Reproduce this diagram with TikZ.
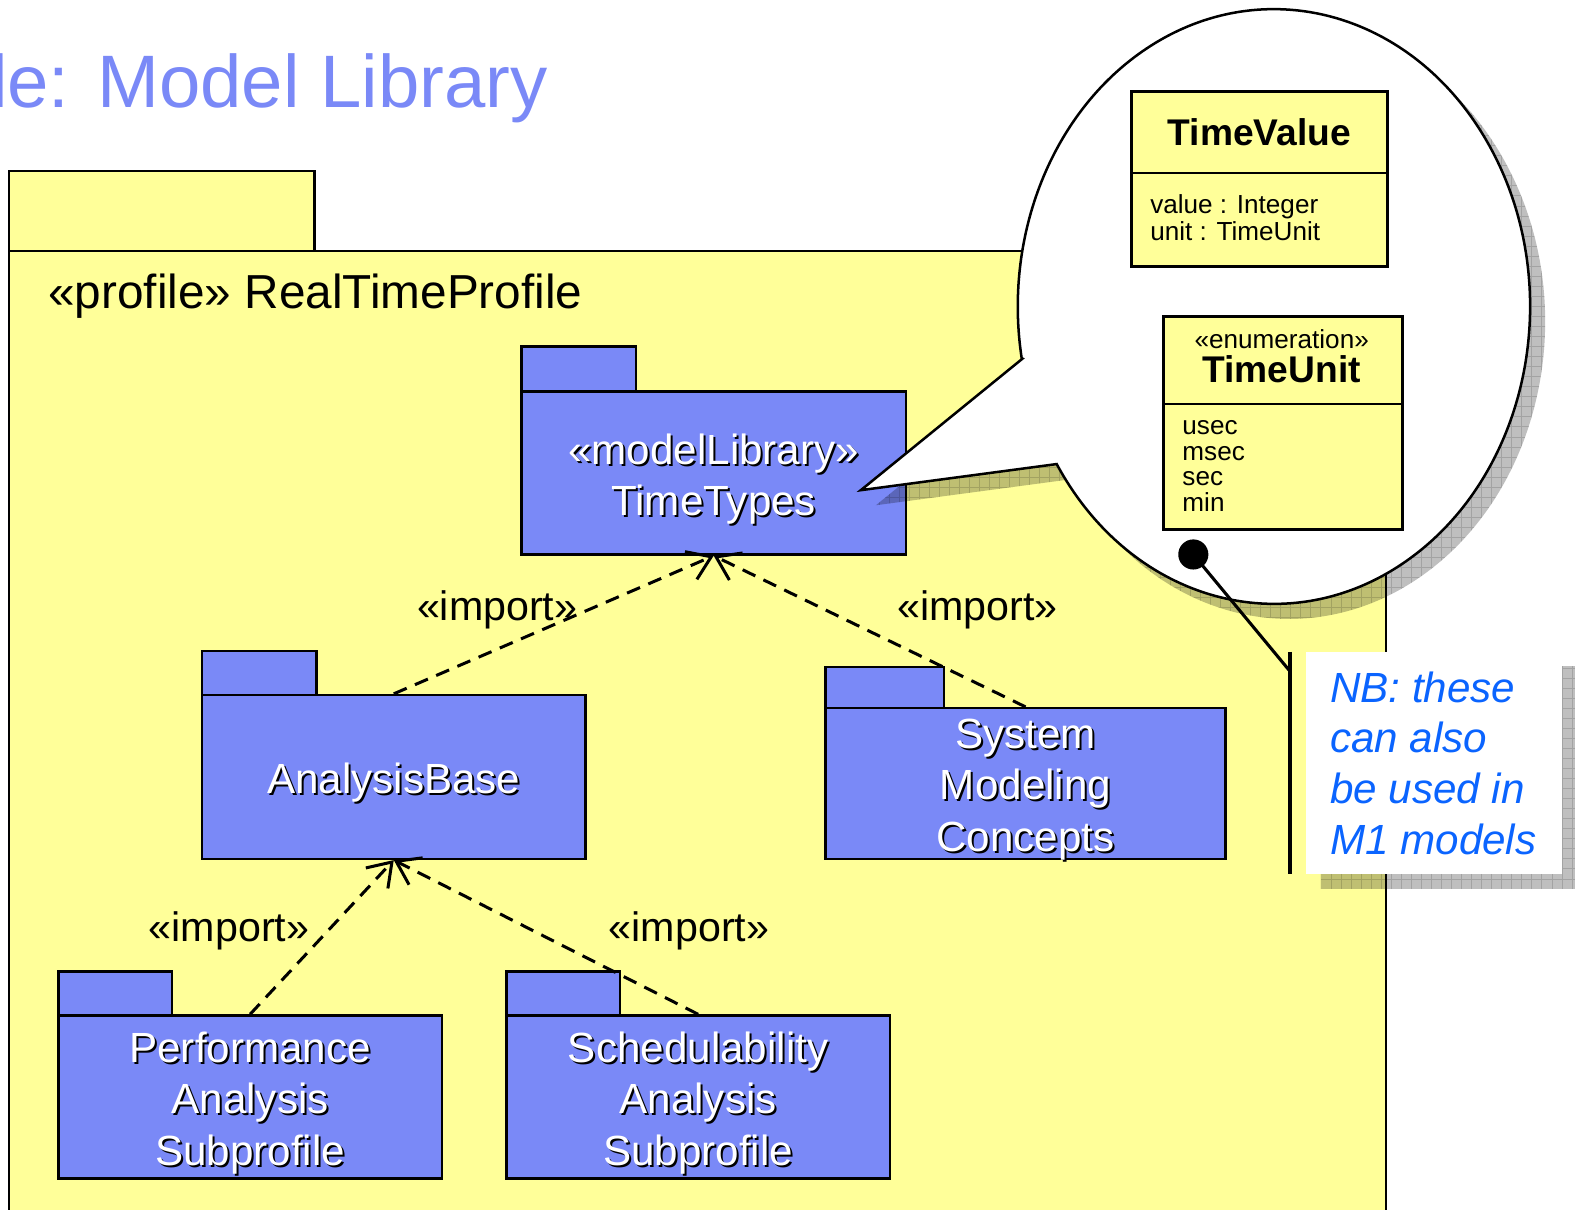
\documentclass[tikz,border=0pt]{standalone}
\usepackage{fontspec}
\setmainfont{Liberation Sans}
\usetikzlibrary{arrows.meta,fit}

\definecolor{pkgblue}{RGB}{122,137,247}
\definecolor{pkgyellow}{RGB}{255,255,153}
\definecolor{notetext}{RGB}{10,100,255}

\newcommand\fsz[2]{\fontsize{#1}{#2}\selectfont}

\tikzset{
  pkgbox/.style={draw=black, line width=2.5pt, fill=pkgblue, inner sep=0pt},
  pkgtext/.style={text=white, align=center, font=\fsz{42}{51}, inner sep=0pt},
  pkgdrop/.style={text=black, align=center, font=\fsz{42}{51}, inner sep=0pt},
  importdep/.style={draw=black, line width=3pt, dash pattern=on 14pt off 9pt,
    -{Straight Barb[length=22pt,width=30pt,line width=3pt]}},
  importlbl/.style={font=\fsz{41}{41}, anchor=base, inner sep=0pt},
  classbox/.style={draw=black, line width=2.5pt, fill=pkgyellow, inner sep=0pt},
  classname/.style={font=\fsz{37}{37}\bfseries, inner sep=0pt},
  classitem/.style={font=\fsz{26}{26}, anchor=base west, inner sep=0pt},
  notetxt/.style={font=\fsz{42}{51}\itshape, text=notetext, anchor=base west, inner sep=0pt},
  shadowfill/.style={fill=black, opacity=.25},
  shadowgrid/.style={draw=black, opacity=.15, line width=.8pt},
}

% a UML package: name, left, body top, right, bottom, tab width, tab height, label
\newcommand\umlpackage[8]{%
  \draw[pkgbox] (#2,#3) rectangle ++(#6,-#7);
  \coordinate (#1-nw) at (#2,#3);
  \coordinate (#1-se) at (#4,#5);
  \node[pkgbox, fit=(#1-nw)(#1-se)] (#1) {};
  \node[pkgdrop] (#1-drop) at ([shift={(2,8)}]#1.center) {#8};
  \node[pkgtext] (#1-label) at ([shift={(0,6)}]#1.center) {#8};
}

% speech balloon outline
\newcommand\balloonpath{(1018,357) -- (857,488) -- (1052,462)
  arc[start angle=148, end angle=-190, x radius=255, y radius=296] -- cycle}

% hatched drop shadow of a closed path
\newcommand\gridshadow[1]{%
  \begin{scope}
    \clip #1;
    \fill[shadowfill] (-100,-100) rectangle (1700,1300);
    \draw[shadowgrid] (-100,-100) grid[step=10pt] (1700,1300);
  \end{scope}}

\begin{document}
\begin{tikzpicture}[x=1pt,y=-1pt]
  \useasboundingbox (0,0) rectangle (1568,1204);
  \clip (0,0) rectangle (1568,1204);

  % heading
  \node[font=\fsz{74}{74}, text=pkgblue, anchor=base west, inner sep=0pt] (title)
    at (-9,107) {le: Model Library};

  % enclosing profile package
  \draw[classbox] (9,170) rectangle (313,250);
  \draw[classbox] (9,250) rectangle (1380,1240);
  \node[font=\fsz{47.5}{47.5}, anchor=base west, inner sep=0pt] (profile)
    at (48,307) {«profile» RealTimeProfile};

  % nested packages
  \umlpackage{tt}{519}{390}{902}{552}{114}{45}{«modelLibrary»\\TimeTypes}
  \umlpackage{ab}{201}{692}{583}{855}{114}{44}{AnalysisBase}
  \umlpackage{smc}{822}{705}{1220}{855}{118}{41}{System\\Modeling\\Concepts}
  \umlpackage{perf}{58}{1011}{440}{1173}{113}{44}{Performance\\Analysis\\Subprofile}
  \umlpackage{sched}{504}{1011}{886}{1173}{113}{44}{Schedulability\\Analysis\\Subprofile}

  % import dependencies
  \draw[importdep] (ab.north) -- (tt.south);
  \draw[importdep] (smc.north) -- (tt.south);
  \draw[importdep] (perf.north) -- (ab.south);
  \draw[importdep] (sched.north) -- (ab.south);
  \node[importlbl] (imp1) at (495,618) {«import»};
  \node[importlbl] (imp2) at (973,618) {«import»};
  \node[importlbl] (imp3) at (228,937) {«import»};
  \node[importlbl] (imp4) at (686,937) {«import»};

  % balloon with the library contents
  \begin{scope}[shift={(15,15)}]
    \gridshadow{\balloonpath}
  \end{scope}
  \filldraw[fill=white, draw=black, line width=2.5pt] \balloonpath;

  % class TimeValue
  \node[classbox, minimum width=255pt, minimum height=81pt, anchor=north west]
    (tv-head) at (1125,90) {};
  \node[classbox, minimum width=255pt, minimum height=93pt, anchor=north west]
    (tv-body) at (1125,171) {};
  \node[classname] (tv-name) at (tv-head.center) {TimeValue};
  \node[classitem] (tv-a1) at (1145,213) {value : Integer};
  \node[classitem] (tv-a2) at (1145,239) {unit : TimeUnit};

  % enumeration TimeUnit
  \node[classbox, minimum width=238pt, minimum height=87pt, anchor=north west]
    (tu-head) at (1157,314) {};
  \node[classbox, minimum width=238pt, minimum height=125pt, anchor=north west]
    (tu-body) at (1157,401) {};
  \node[font=\fsz{26}{26}, anchor=base, inner sep=0pt] (tu-st) at (1276,347) {«enumeration»};
  \node[classname, anchor=base] (tu-name) at (1276,381) {TimeUnit};
  \node[classitem] (tu-l1) at (1177,433) {usec};
  \node[classitem] (tu-l2) at (1177,458) {msec};
  \node[classitem] (tu-l3) at (1177,483) {sec};
  \node[classitem] (tu-l4) at (1177,509) {min};

  % note attached to the balloon
  \coordinate (dot) at (1188,552);
  \coordinate (bar-top) at (1284,649);
  \coordinate (bar-join) at (1284,668);
  \coordinate (bar-bot) at (1284,870);
  \begin{scope}[shift={(15,15)}]
    \draw[black, opacity=.25, line width=3pt] (dot) -- (bar-join);
    \draw[black, opacity=.25, line width=4pt] (bar-top) -- (bar-bot);
    \gridshadow{(1300,649) rectangle (1555,870)}
  \end{scope}
  \draw[black, line width=3pt] (dot) -- (bar-join);
  \fill[black] (dot) circle[radius=15pt];
  \draw[black, line width=4pt] (bar-top) -- (bar-bot);
  \node[fill=white, minimum width=255pt, minimum height=221pt, anchor=north west, inner sep=0pt]
    (note) at (1300,649) {};
  \node[notetxt] (note-l1) at (1324,699) {NB: these};
  \node[notetxt] (note-l2) at (1324,749) {can also};
  \node[notetxt] (note-l3) at (1324,800) {be used in};
  \node[notetxt] (note-l4) at (1324,851) {M1 models};
\end{tikzpicture}
\end{document}
